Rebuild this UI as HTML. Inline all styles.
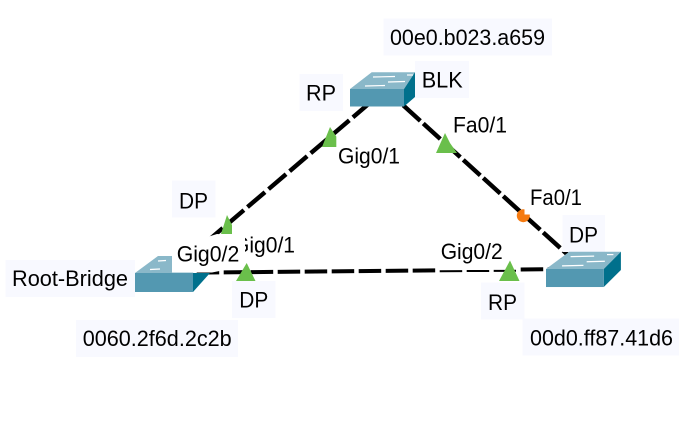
<!DOCTYPE html>
<html><head><meta charset="utf-8"><style>
html,body{margin:0;padding:0;background:#fff}
svg{display:block}
text{font-family:"Liberation Sans",sans-serif;font-size:22px;fill:#000}
</style></head><body>
<svg width="692" height="422" viewBox="0 0 692 422" xmlns="http://www.w3.org/2000/svg">
<rect width="692" height="422" fill="#fff"/>
<g stroke="#000" stroke-width="4.4" fill="none">
<line x1="205.3" y1="243" x2="372" y2="101" stroke-dasharray="23 4.7"/>
<line x1="403.3" y1="105.4" x2="568" y2="255" stroke-dasharray="23 4"/>
<line x1="196.7" y1="272.6" x2="436" y2="270.4" stroke-width="4" stroke-dasharray="22.5 4.5"/>
<line x1="520.7" y1="269.5" x2="552" y2="269.2" stroke-width="4" stroke-dasharray="22.5 4.5"/>
<line x1="439.7" y1="271.2" x2="516" y2="270.8" stroke-width="2" stroke-dasharray="22.5 4.5"/>
</g>
<g fill="#6abf4b">
<polygon points="330,127 336.3,136.5 336.3,147 322,147"/>
<polygon points="227,215 232,225 232,234 221,234"/>
<polygon points="246.7,263 255.5,281 236,281"/>
<polygon points="445,133 450,143 457,153 436,153"/>
<polygon points="510,260.5 519.5,281 499,281"/>
</g>
<circle cx="523.3" cy="215.7" r="6.5" fill="#f57a10"/>
<rect x="524.5" y="206" width="8" height="8.5" fill="#fff"/>
<g fill="#f8f9ff">
<rect x="383.5" y="18.5" width="168.5" height="37"/>
<rect x="299.5" y="74" width="43.5" height="37"/>
<rect x="415" y="61" width="54" height="37"/>
<rect x="172" y="180.5" width="43.5" height="37"/>
<rect x="5.5" y="260" width="129.5" height="37"/>
<rect x="232" y="281" width="43.5" height="37"/>
<rect x="76" y="320" width="162" height="37"/>
<rect x="562.5" y="215" width="42.5" height="37"/>
<rect x="481" y="282.5" width="43.5" height="37"/>
<rect x="522.5" y="318.5" width="156.5" height="37"/>
</g>
<text x="233" y="252.7" textLength="62" lengthAdjust="spacingAndGlyphs">Gig0/1</text>
<!-- root bridge switch -->
<g>
<polygon points="135,273 158,256 209,256 193,273" fill="#8ab8c9"/>
<polygon points="193,273 210,273 193,292" fill="#00708c"/>
<rect x="135" y="273" width="58" height="19" fill="#5398b1"/>
<g stroke="#fff" stroke-width="1.2"><line x1="158" y1="261" x2="166" y2="260.5"/><line x1="150" y1="269.5" x2="160" y2="269"/></g>
</g>
<polygon points="172,248 217,234 245,236 245,266 212,272.5 172,272.5" fill="#fff"/>
<!-- BLK switch -->
<g transform="translate(350 89)">
<polygon points="0,0 21.7,-16.7 65,-16.7 54,0" fill="#8ab8c9"/>
<polygon points="54,0 65,-16.7 65,8 54,17.5" fill="#00708c"/>
<rect x="0" y="0" width="54" height="17.5" fill="#5398b1"/>
<g stroke="#fff" stroke-width="1.2"><line x1="23" y1="-12" x2="45" y2="-12.5"/><line x1="15" y1="-3" x2="35" y2="-3.5"/><line x1="38" y1="-7" x2="55" y2="-7.5"/><line x1="57" y1="-14" x2="63" y2="-14"/></g>
</g>
<!-- right switch -->
<g transform="translate(546 269) scale(1.07 1.03)">
<polygon points="0,0 21.7,-16.7 70,-16.7 54,0" fill="#8ab8c9"/>
<polygon points="54,0 70,-16.7 70,1 54,17.5" fill="#00708c"/>
<rect x="0" y="0" width="54" height="17.5" fill="#5398b1"/>
<g stroke="#fff" stroke-width="1.2"><line x1="23" y1="-12" x2="45" y2="-12.5"/><line x1="15" y1="-3" x2="35" y2="-3.5"/><line x1="38" y1="-7" x2="55" y2="-7.5"/><line x1="57" y1="-14" x2="63" y2="-14"/></g>
</g>
<text x="390" y="45" textLength="155" lengthAdjust="spacingAndGlyphs">00e0.b023.a659</text>
<text x="306" y="100.7" textLength="30" lengthAdjust="spacingAndGlyphs">RP</text>
<text x="421.7" y="87.3" textLength="41" lengthAdjust="spacingAndGlyphs">BLK</text>
<text x="453" y="132.7" textLength="54" lengthAdjust="spacingAndGlyphs">Fa0/1</text>
<text x="338" y="163.3" textLength="62" lengthAdjust="spacingAndGlyphs">Gig0/1</text>
<text x="179" y="208.3" textLength="29" lengthAdjust="spacingAndGlyphs">DP</text>
<text x="176.7" y="261.7" textLength="62.6" lengthAdjust="spacingAndGlyphs">Gig0/2</text>
<text x="12" y="286" textLength="116" lengthAdjust="spacingAndGlyphs">Root-Bridge</text>
<text x="239.3" y="307.7" textLength="29" lengthAdjust="spacingAndGlyphs">DP</text>
<text x="82.7" y="346" textLength="149" lengthAdjust="spacingAndGlyphs">0060.2f6d.2c2b</text>
<text x="530" y="205" textLength="52" lengthAdjust="spacingAndGlyphs">Fa0/1</text>
<text x="569" y="242.3" textLength="29" lengthAdjust="spacingAndGlyphs">DP</text>
<text x="440.7" y="259" textLength="62" lengthAdjust="spacingAndGlyphs">Gig0/2</text>
<text x="488" y="310" textLength="29" lengthAdjust="spacingAndGlyphs">RP</text>
<text x="530" y="345.7" textLength="143" lengthAdjust="spacingAndGlyphs">00d0.ff87.41d6</text>
</svg>
</body></html>
